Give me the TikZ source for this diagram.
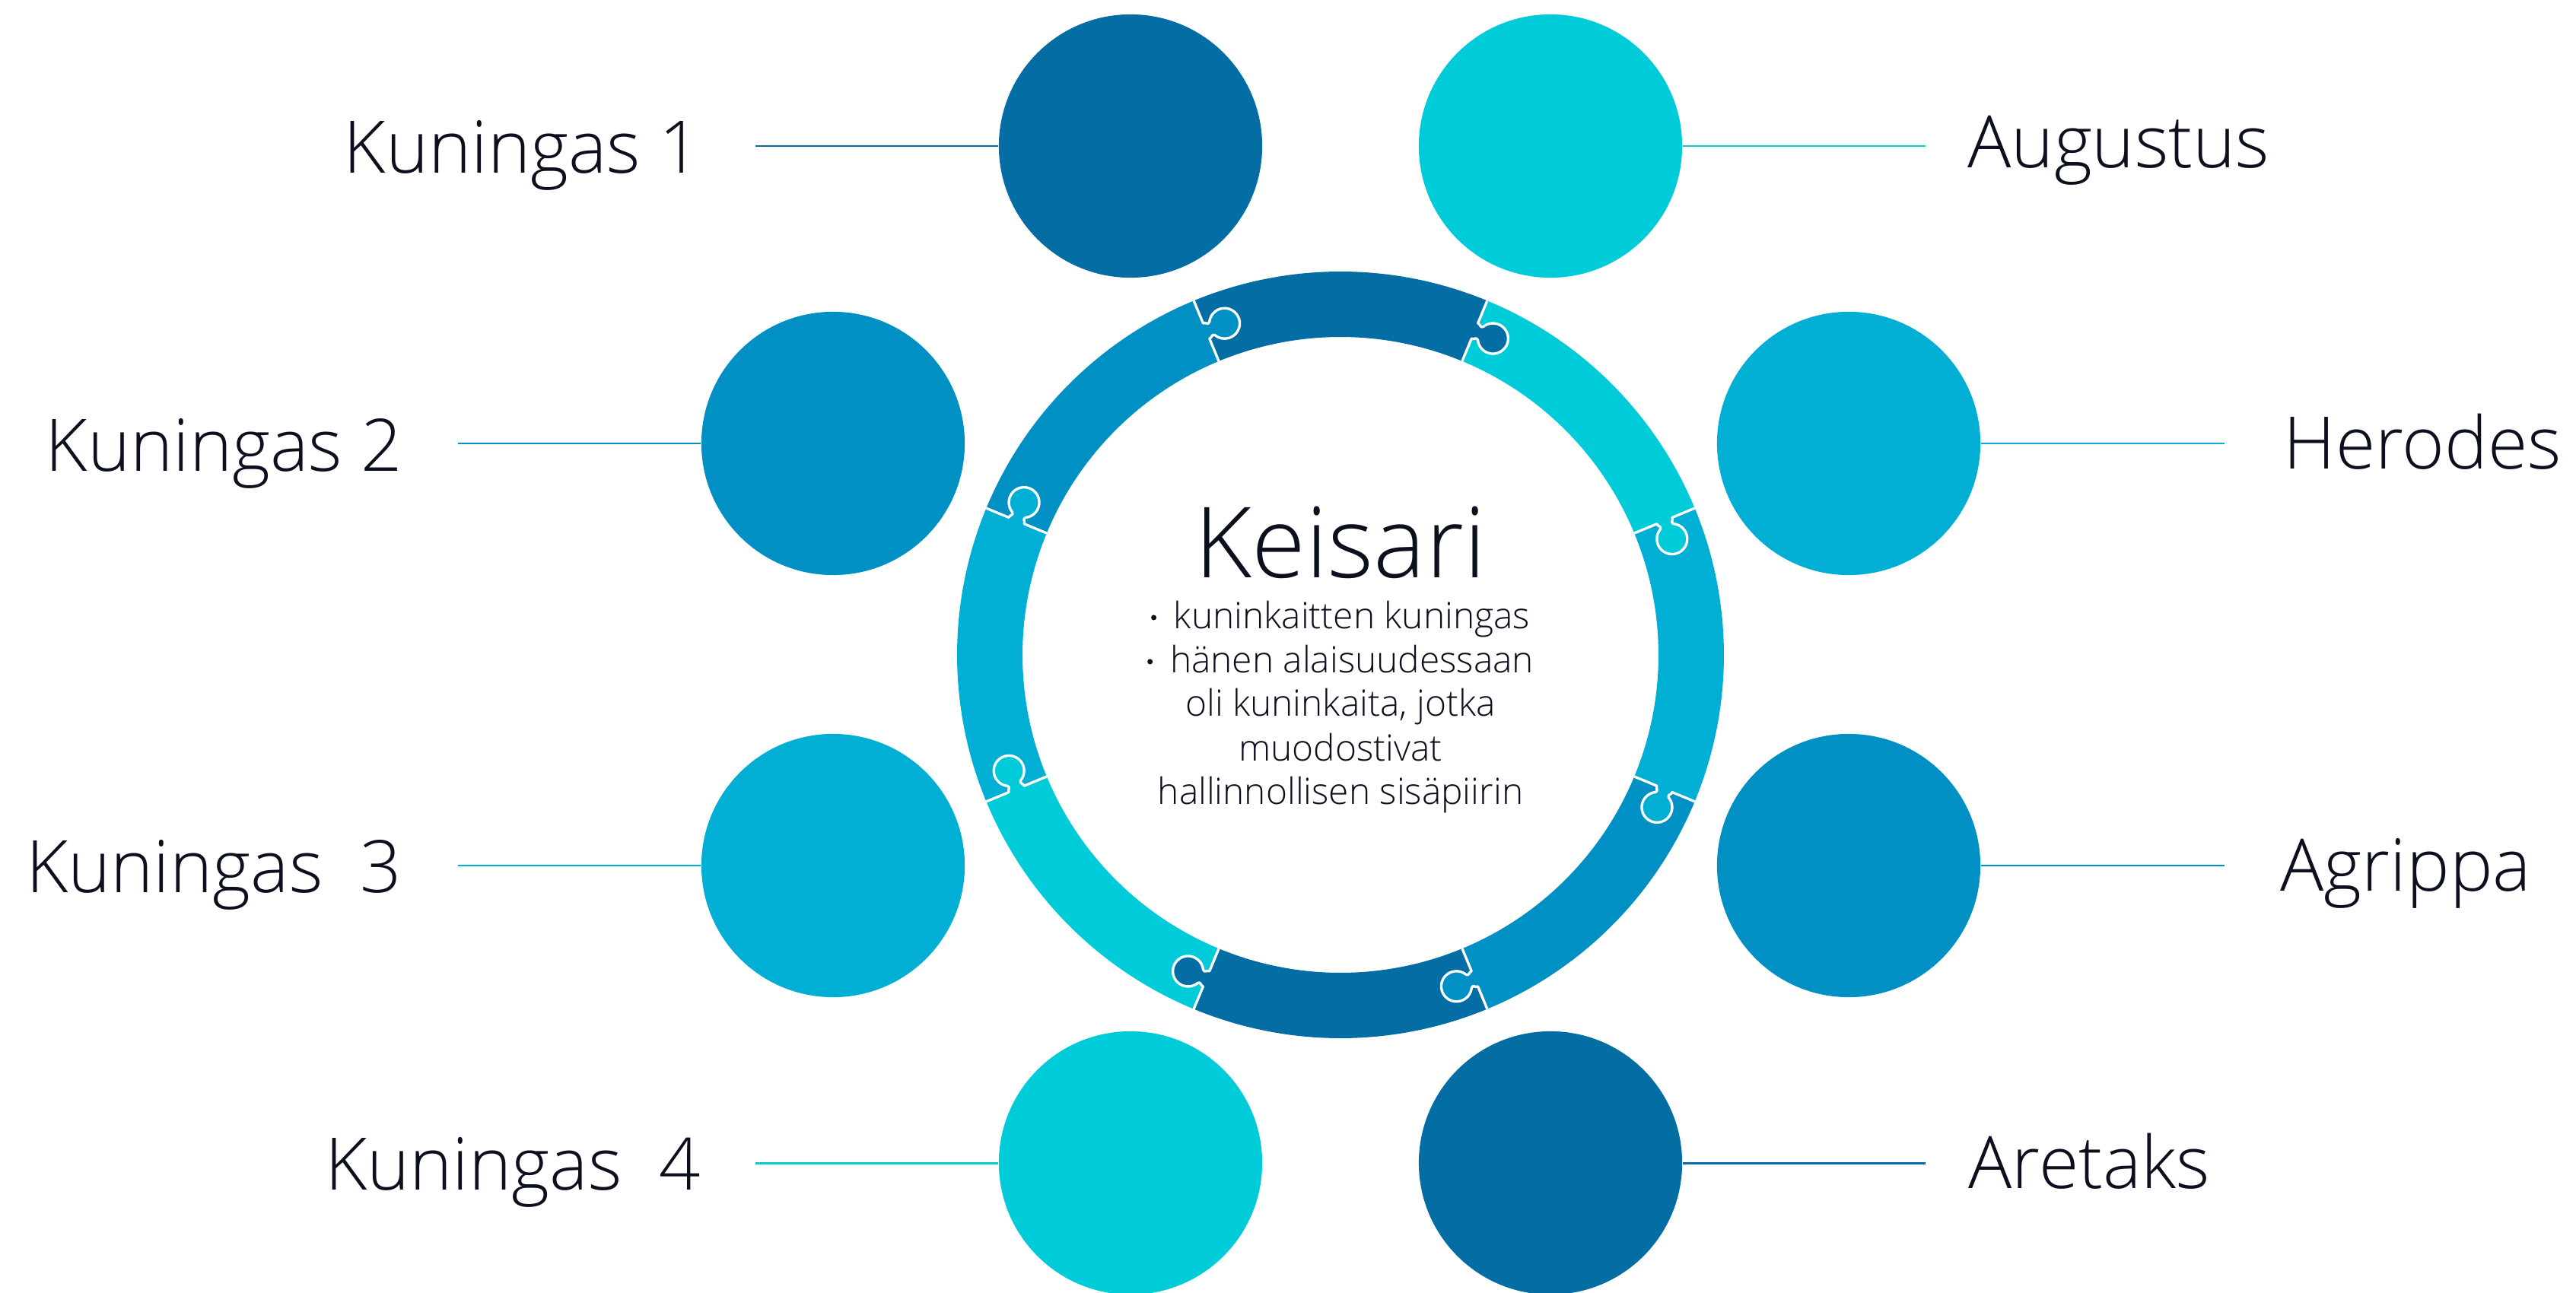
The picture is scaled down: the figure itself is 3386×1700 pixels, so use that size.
\documentclass[tikz,border=0pt]{standalone}
\usepackage{fontspec}
\setmainfont{Open Sans}[UprightFont={* Light}]
\definecolor{cdark}{HTML}{046DA3}
\definecolor{cmed}{HTML}{0190C3}
\definecolor{clight}{HTML}{00AFD3}
\definecolor{ccyan}{HTML}{00CBD8}
\definecolor{ctext}{HTML}{0B0F1E}
\newcommand\mybul{\tikz[baseline=0pt]\fill[ctext] (0pt,4pt) circle[radius=1pt];\hspace{6.5pt}}
\begin{document}
\begin{tikzpicture}[x=0.01cm,y=0.01cm,
  ball/.style={circle, inner sep=0pt, minimum size=3.46cm},
  lbl/.style={inner sep=0pt, text=ctext, font=\fontsize{27.1pt}{33pt}\selectfont},
  btxt/.style={inner sep=0pt, text=ctext, anchor=base, font=\fontsize{13.6pt}{16.4pt}\selectfont},
  conn/.style={line width=0.85pt},
  joint/.style={draw=white, line width=0.95pt, line join=round}]
\useasboundingbox (0,0) rectangle (3386,-1700);

% ring segments
\begin{scope}[shift={(1762,-861)}]
\foreach \a/\c in {67.5/cdark, 22.5/ccyan, -22.5/clight, -67.5/cmed, -112.5/cdark, -157.5/ccyan, 157.5/clight, 112.5/cmed}
  \fill[\c] (\a:504) arc[start angle=\a, delta angle=45, radius=504] -- ({\a+45}:418) arc[start angle={\a+45}, delta angle=-45, radius=418] -- cycle;
\foreach \a/\c in {22.5/ccyan, 67.5/cdark, 112.5/cmed, 157.5/clight, -157.5/ccyan, -112.5/cdark, -67.5/cmed, -22.5/clight}{
  \begin{scope}[rotate=\a]
    \fill[\c] (450,2) -- (450,0) .. controls (450,-4) and (455,-5) .. (451.6,-8.3)
      arc[start angle=118, end angle=422, radius=20]
      .. controls (467,-5) and (472,-4) .. (472,0) -- (472,2) -- cycle;
    \draw[joint] (418,0) -- (450,0) .. controls (450,-4) and (455,-5) .. (451.6,-8.3)
      arc[start angle=118, end angle=422, radius=20]
      .. controls (467,-5) and (472,-4) .. (472,0) -- (504,0);
  \end{scope}}
\end{scope}

% circles
\node[ball, fill=cdark]  (c1) at (1486,-192)  {};
\node[ball, fill=cmed]   (c2) at (1095,-583)  {};
\node[ball, fill=clight] (c3) at (1095,-1138) {};
\node[ball, fill=ccyan]  (c4) at (1486,-1529) {};
\node[ball, fill=ccyan]  (c5) at (2038,-192)  {};
\node[ball, fill=clight] (c6) at (2430,-583)  {};
\node[ball, fill=cmed]   (c7) at (2430,-1138) {};
\node[ball, fill=cdark]  (c8) at (2038,-1529) {};

% connector ends
\coordinate (e1) at (993,-192);
\coordinate (e2) at (602,-583);
\coordinate (e3) at (602,-1138);
\coordinate (e4) at (993,-1529);
\coordinate (e5) at (2531,-192);
\coordinate (e6) at (2924,-583);
\coordinate (e7) at (2924,-1138);
\coordinate (e8) at (2531,-1529);

\draw[conn, cdark]  (e1) -- (c1.west);
\draw[conn, cmed]   (e2) -- (c2.west);
\draw[conn, clight] (e3) -- (c3.west);
\draw[conn, ccyan]  (e4) -- (c4.west);
\draw[conn, ccyan]  (c5.east) -- (e5);
\draw[conn, clight] (c6.east) -- (e6);
\draw[conn, cmed]   (c7.east) -- (e7);
\draw[conn, cdark]  (c8.east) -- (e8);

% labels
\node[lbl, anchor=base east] (t1) at (922,-228)  {Kuningas 1};
\node[lbl, anchor=base east] (t2) at (530,-619)  {Kuningas 2};
\node[lbl, anchor=base east] (t3) at (529,-1173) {Kuningas\ \ 3};
\node[lbl, anchor=base east] (t4) at (922,-1564) {Kuningas\ \ 4};
\node[lbl, anchor=base west] (t5) at (2586,-221)  {Augustus};
\node[lbl, anchor=base west] (t6) at (3001,-616)  {Herodes};
\node[lbl, anchor=base west] (t7) at (2997,-1171) {Agrippa};
\node[lbl, anchor=base west] (t8) at (2587,-1562) {Aretaks};

% centre text
\node[inner sep=0pt, text=ctext, anchor=base, font=\fontsize{36.7pt}{44pt}\selectfont] (kei) at (1762,-759) {Keisari};
\node[btxt] (b1) at (1762,-826)  {\mybul kuninkaitten kuningas};
\node[btxt] (b2) at (1762,-884)  {\mybul hänen alaisuudessaan};
\node[btxt] (b3) at (1762,-941)  {oli kuninkaita, jotka};
\node[btxt] (b4) at (1762,-1000) {muodostivat};
\node[btxt] (b5) at (1762,-1057) {hallinnollisen sisäpiirin};
\end{tikzpicture}
\end{document}
